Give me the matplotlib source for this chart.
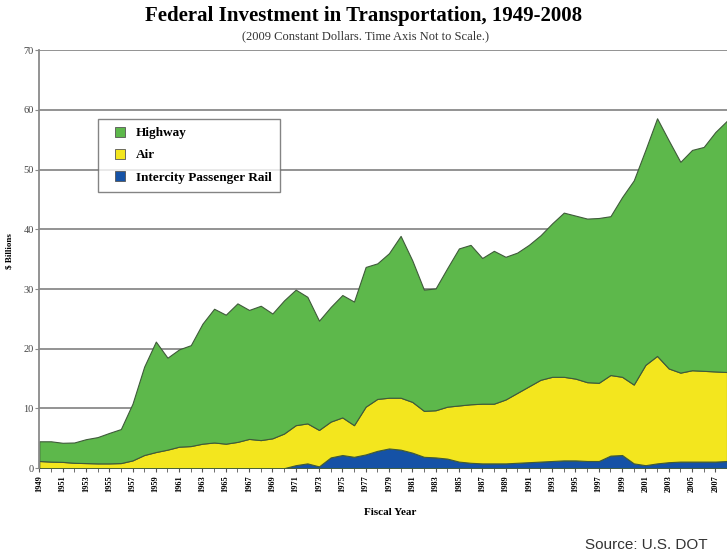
import numpy as np
import matplotlib.pyplot as plt

years = np.arange(1949, 2009)

# $ billions (2009 constant dollars)
highway = [3.3, 3.4, 3.2, 3.4, 4.0, 4.4, 5.1, 5.7, 9.5, 14.8,
           18.5, 15.4, 16.3, 16.9, 20.1, 22.4, 21.6, 23.2, 21.6, 22.5,
           20.9, 22.3, 22.7, 21.2, 18.3, 19.2, 20.5, 20.7, 23.4, 22.7,
           24.2, 27.1, 23.7, 20.3, 20.4, 23.2, 26.3, 26.7, 24.4, 25.6,
           23.9, 23.5, 23.7, 24.2, 25.7, 27.5, 27.3, 27.4, 27.6, 26.6,
           30.1, 34.2, 36.0, 39.8, 38.2, 35.3, 36.9, 37.5, 40.1, 42.1]
air = [1.2, 1.1, 1.05, 0.9, 0.85, 0.8, 0.8, 0.85, 1.3, 2.2,
       2.7, 3.1, 3.6, 3.7, 4.1, 4.3, 4.1, 4.4, 4.9, 4.7,
       5.0, 5.8, 6.7, 6.7, 6.1, 6.0, 6.3, 5.3, 8.0, 8.7,
       8.5, 8.7, 8.5, 7.7, 7.9, 8.7, 9.4, 9.8, 10.0, 10.0,
       10.7, 11.7, 12.7, 13.7, 14.1, 14.0, 13.7, 13.2, 13.1, 13.5,
       13.1, 13.2, 16.8, 18.0, 15.7, 14.9, 15.3, 15.2, 15.1, 14.9]
rail = [0] * 22 + [0.5, 0.8, 0.3, 1.8, 2.2, 1.9, 2.3, 2.9, 3.3, 3.1,
                   2.6, 1.9, 1.8, 1.6, 1.1, 0.9, 0.8, 0.8, 0.8, 0.9,
                   1.0, 1.1, 1.2, 1.3, 1.3, 1.2, 1.2, 2.1, 2.2, 0.8,
                   0.5, 0.8, 1.0, 1.1, 1.1, 1.1, 1.1, 1.2]

labels = ['Intercity Passenger Rail', 'Air', 'Highway']
colors = ['#1552a6', '#f3e61e', '#5db84b']

serif = 'Liberation Serif'

fig = plt.figure(figsize=(7.27, 5.58), dpi=100)
ax = fig.add_axes([0.054, 0.161, 0.946, 0.749])

polys = ax.stackplot(years, rail, air, highway, colors=colors,
                     edgecolor='#3f5a3a', linewidth=0.8, zorder=2)

ax.set_xlim(1949, 2008)
ax.set_ylim(0, 70)
ax.set_yticks(range(0, 71, 10))
ax.set_xticks(years[::2])
ax.set_xticks(years, minor=True)
ax.set_xticklabels([str(y) for y in years[::2]], rotation=90,
                   fontsize=6, fontweight='bold', family=serif)
ax.set_yticklabels([str(v) for v in range(0, 71, 10)], fontsize=7.5,
                   family=serif, color='#444444')
ax.yaxis.grid(True, color='#8a8a8a', linewidth=1.3, zorder=0)
ax.set_axisbelow(True)

for s in ['top', 'right', 'bottom']:
    ax.spines[s].set_visible(False)
ax.spines['left'].set_color('#8a8a8a')
ax.spines['left'].set_linewidth(1.3)
ax.tick_params(axis='y', length=3, color='#8a8a8a', pad=1)
ax.tick_params(axis='x', which='both', length=3, color='#555555', pad=2)

ax.set_xlabel('Fiscal Year', fontsize=8, fontweight='bold', family=serif)
ax.xaxis.set_label_coords(0.51, -0.095)
ax.set_ylabel('$ Billions', fontsize=6.5, fontweight='bold', family=serif)
ax.yaxis.set_label_coords(-0.038, 0.52)

fig.text(0.5, 0.971, 'Federal Investment in Transportation, 1949-2008',
         ha='center', va='center', fontsize=15, fontweight='bold', family=serif)
fig.text(0.503, 0.935, '(2009 Constant Dollars. Time Axis Not to Scale.)',
         ha='center', va='center', fontsize=9, family=serif, color='#333333')
fig.text(0.974, 0.023, 'Source: U.S. DOT', ha='right', va='center',
         fontsize=11, family='Liberation Sans', color='#333333')

handles = [plt.Line2D([], [], marker='s', linestyle='none', markersize=6.5,
                      markerfacecolor=c, markeredgecolor='#555555',
                      markeredgewidth=0.6)
           for c in colors[::-1]]
leg = ax.legend(handles, labels[::-1], loc='upper left',
                bbox_to_anchor=(0.085, 0.835), frameon=True, fancybox=False,
                prop={'family': serif, 'weight': 'bold', 'size': 9.5},
                handletextpad=0.1, labelspacing=0.75, borderpad=0.6,
                handlelength=2.2, borderaxespad=0)
leg.get_frame().set_edgecolor('#666666')
leg.get_frame().set_linewidth(1.0)

fig.savefig('out.png', dpi=100)
